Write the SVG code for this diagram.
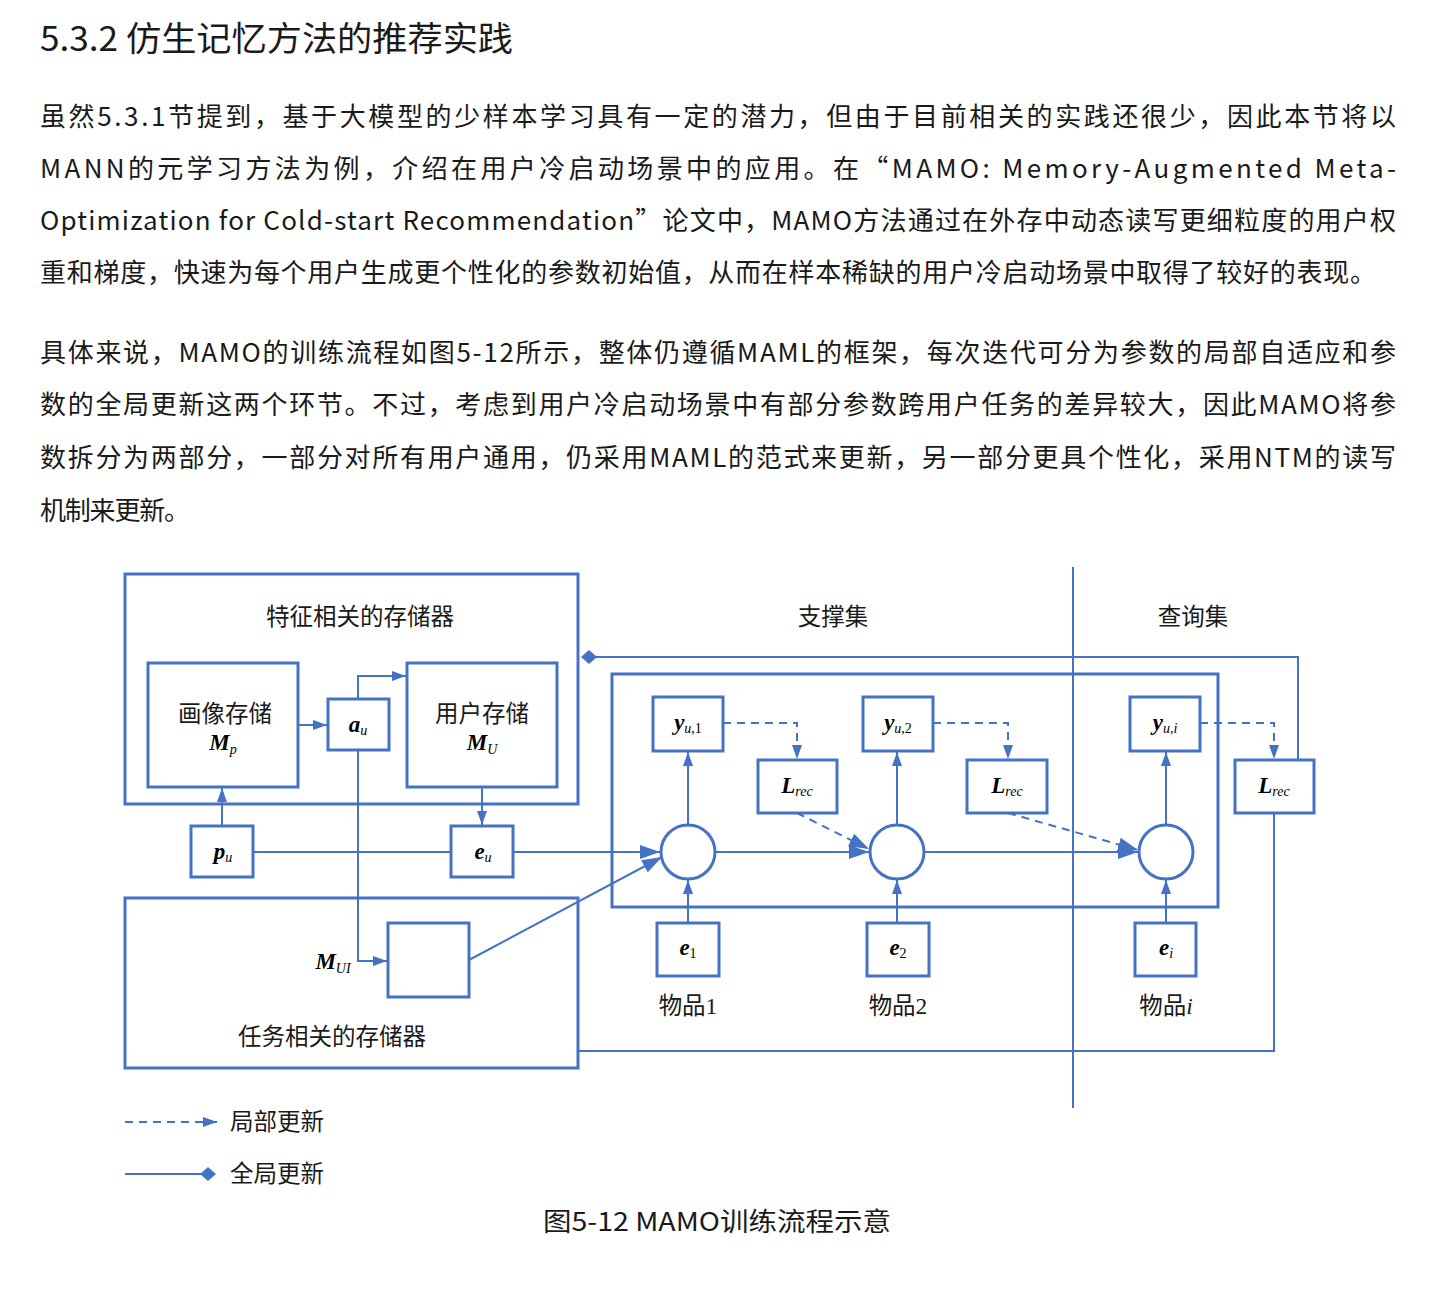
<svg xmlns="http://www.w3.org/2000/svg" width="1433" height="1289" viewBox="0 0 1433 1289">
<style>
.body{font-family:"Noto Sans CJK SC","Noto Sans",sans-serif;font-size:26px;fill:#1a1a1a}
.title{font-family:"Noto Sans CJK SC","Noto Sans",sans-serif;font-size:34px;fill:#1a1a1a}
.lbl{font-family:"Liberation Serif","Noto Sans CJK SC",serif;font-size:23.5px;fill:#1a1a1a}
.mb{font-family:"Liberation Serif",serif;font-weight:bold;font-style:italic;font-size:23px}
.ms{font-family:"Liberation Serif",serif;font-style:italic;font-size:14px}
.mr{font-family:"Liberation Serif",serif;font-size:14px}
.box{fill:none;stroke:#4472C4;stroke-width:3}
.ln{fill:none;stroke:#4472C4;stroke-width:2}
.dash{fill:none;stroke:#4472C4;stroke-width:2;stroke-dasharray:8,6}
</style>
<defs>
<marker id="arr" markerUnits="userSpaceOnUse" markerWidth="16" markerHeight="12" refX="14" refY="5" orient="auto">
<path d="M0,0 L14,5 L0,10 z" fill="#4472C4"/>
</marker>
<marker id="arrBig" markerUnits="userSpaceOnUse" markerWidth="22" markerHeight="16" refX="20" refY="7" orient="auto">
<path d="M0,0 L20,7 L0,14 z" fill="#4472C4"/>
</marker>
<marker id="dia" markerUnits="userSpaceOnUse" markerWidth="16" markerHeight="16" refX="8" refY="8" orient="auto">
<path d="M0,8 L8,1 L16,8 L8,15 z" fill="#4472C4"/>
</marker>
</defs>
<rect width="1433" height="1289" fill="#fff"/>

<text class="title" x="40" y="51" textLength="473" lengthAdjust="spacingAndGlyphs">5.3.2 仿生记忆方法的推荐实践</text>
<text class="body" x="40" y="126" textLength="1356" lengthAdjust="spacing">虽然5.3.1节提到，基于大模型的少样本学习具有一定的潜力，但由于目前相关的实践还很少，因此本节将以</text>
<text class="body" x="40" y="178" textLength="1356" lengthAdjust="spacing">MANN的元学习方法为例，介绍在用户冷启动场景中的应用。在“MAMO: Memory-Augmented Meta-</text>
<text class="body" x="40" y="230" textLength="1356" lengthAdjust="spacing">Optimization for Cold-start Recommendation”论文中，MAMO方法通过在外存中动态读写更细粒度的用户权</text>
<text class="body" x="40" y="282" textLength="1336" lengthAdjust="spacing">重和梯度，快速为每个用户生成更个性化的参数初始值，从而在样本稀缺的用户冷启动场景中取得了较好的表现。</text>
<text class="body" x="40" y="362" textLength="1356" lengthAdjust="spacing">具体来说，MAMO的训练流程如图5-12所示，整体仍遵循MAML的框架，每次迭代可分为参数的局部自适应和参</text>
<text class="body" x="40" y="414" textLength="1356" lengthAdjust="spacing">数的全局更新这两个环节。不过，考虑到用户冷启动场景中有部分参数跨用户任务的差异较大，因此MAMO将参</text>
<text class="body" x="40" y="467" textLength="1356" lengthAdjust="spacing">数拆分为两部分，一部分对所有用户通用，仍采用MAML的范式来更新，另一部分更具个性化，采用NTM的读写</text>
<text class="body" x="40" y="520" textLength="150" lengthAdjust="spacing">机制来更新。</text>

<g id="feature-memory">
<rect class="box" x="125" y="574" width="453" height="230"/>
<text class="lbl" x="360" y="625" text-anchor="middle">特征相关的存储器</text>
</g>
<g id="task-memory">
<rect class="box" x="125" y="898" width="453" height="170"/>
<text class="lbl" x="332" y="1045" text-anchor="middle">任务相关的存储器</text>
<text x="333" y="969" text-anchor="middle"><tspan class="mb">M</tspan><tspan class="ms" dy="4">UI</tspan></text>
</g>
<g id="support-set">
<rect class="box" x="612" y="674" width="606" height="233"/>
<text class="lbl" x="833" y="625" text-anchor="middle">支撑集</text>
</g>
<g id="query-set">
<text class="lbl" x="1193" y="625" text-anchor="middle">查询集</text>
</g>

<g id="profile-mem">
<rect class="box" x="148" y="663" width="150" height="124"/>
<text class="lbl" x="225" y="722" text-anchor="middle">画像存储</text>
<text x="223" y="750" text-anchor="middle"><tspan class="mb">M</tspan><tspan class="ms" dy="4">p</tspan></text>
</g>
<g id="a-u">
<rect class="box" x="328" y="699" width="61" height="51"/>
<text x="358" y="732" text-anchor="middle"><tspan class="mb">a</tspan><tspan class="ms" dy="3">u</tspan></text>
</g>
<g id="user-mem">
<rect class="box" x="407" y="663" width="150" height="124"/>
<text class="lbl" x="482" y="722" text-anchor="middle">用户存储</text>
<text x="482" y="750" text-anchor="middle"><tspan class="mb">M</tspan><tspan class="ms" dy="4">U</tspan></text>
</g>
<g id="p-u">
<rect class="box" x="191" y="826" width="62" height="51"/>
<text x="223" y="859" text-anchor="middle"><tspan class="mb">p</tspan><tspan class="ms" dy="3">u</tspan></text>
</g>
<g id="e-u">
<rect class="box" x="451" y="826" width="62" height="51"/>
<text x="483" y="859" text-anchor="middle"><tspan class="mb">e</tspan><tspan class="ms" dy="3">u</tspan></text>
</g>
<g id="mui-box">
<rect class="box" x="388" y="923" width="81" height="74"/>
</g>

<g id="y1">
<rect class="box" x="653" y="697" width="70" height="54"/>
<text x="688" y="730" text-anchor="middle"><tspan class="mb">y</tspan><tspan class="ms" dy="3">u</tspan><tspan class="mr">,1</tspan></text>
</g>
<g id="y2">
<rect class="box" x="863" y="697" width="70" height="54"/>
<text x="898" y="730" text-anchor="middle"><tspan class="mb">y</tspan><tspan class="ms" dy="3">u</tspan><tspan class="mr">,2</tspan></text>
</g>
<g id="yi">
<rect class="box" x="1130" y="697" width="70" height="54"/>
<text x="1165" y="730" text-anchor="middle"><tspan class="mb">y</tspan><tspan class="ms" dy="3">u,i</tspan></text>
</g>
<g id="lrec1">
<rect class="box" x="758" y="760" width="79" height="53"/>
<text x="797" y="793" text-anchor="middle"><tspan class="mb">L</tspan><tspan class="ms" dy="3">rec</tspan></text>
</g>
<g id="lrec2">
<rect class="box" x="967" y="760" width="80" height="53"/>
<text x="1007" y="793" text-anchor="middle"><tspan class="mb">L</tspan><tspan class="ms" dy="3">rec</tspan></text>
</g>
<g id="lrec3">
<rect class="box" x="1235" y="760" width="79" height="53"/>
<text x="1274" y="793" text-anchor="middle"><tspan class="mb">L</tspan><tspan class="ms" dy="3">rec</tspan></text>
</g>
<g id="c1"><circle class="box" cx="688" cy="852" r="27"/></g>
<g id="c2"><circle class="box" cx="897" cy="852" r="27"/></g>
<g id="c3"><circle class="box" cx="1166" cy="852" r="27"/></g>

<g id="e1">
<rect class="box" x="657" y="923" width="62" height="53"/>
<text x="688" y="955" text-anchor="middle"><tspan class="mb">e</tspan><tspan class="mr" dy="3">1</tspan></text>
<text class="lbl" x="688" y="1014" text-anchor="middle">物品1</text>
</g>
<g id="e2">
<rect class="box" x="867" y="923" width="62" height="53"/>
<text x="898" y="955" text-anchor="middle"><tspan class="mb">e</tspan><tspan class="mr" dy="3">2</tspan></text>
<text class="lbl" x="898" y="1014" text-anchor="middle">物品2</text>
</g>
<g id="ei">
<rect class="box" x="1135" y="923" width="61" height="53"/>
<text x="1166" y="955" text-anchor="middle"><tspan class="mb">e</tspan><tspan class="ms" dy="3">i</tspan></text>
<text x="1166" y="1014" text-anchor="middle"><tspan class="lbl">物品</tspan><tspan class="lbl" font-style="italic">i</tspan></text>
</g>

<g id="connectors">
<line class="ln" x1="1073" y1="567" x2="1073" y2="1108"/>
<polyline class="ln" points="1298,760 1298,657 589,657" marker-end="url(#dia)"/>
<line class="ln" x1="298" y1="725" x2="327" y2="725" marker-end="url(#arr)"/>
<polyline class="ln" points="358,699 358,676 406,676" marker-end="url(#arr)"/>
<polyline class="ln" points="358,750 358,961 387,961" marker-end="url(#arr)"/>
<line class="ln" x1="482" y1="787" x2="482" y2="825" marker-end="url(#arr)"/>
<line class="ln" x1="222" y1="826" x2="222" y2="788" marker-end="url(#arr)"/>
<line class="ln" x1="253" y1="852" x2="451" y2="852"/>
<line class="ln" x1="513" y1="852" x2="660" y2="852" marker-end="url(#arrBig)"/>
<line class="ln" x1="469" y1="960" x2="662" y2="857" marker-end="url(#arrBig)"/>
<line class="ln" x1="715" y1="852" x2="869" y2="852" marker-end="url(#arrBig)"/>
<line class="ln" x1="924" y1="852" x2="1138" y2="852" marker-end="url(#arrBig)"/>
<line class="dash" x1="797" y1="813" x2="869" y2="849" marker-end="url(#arrBig)"/>
<line class="dash" x1="1008" y1="813" x2="1138" y2="850" marker-end="url(#arrBig)"/>
<line class="ln" x1="688" y1="825" x2="688" y2="752" marker-end="url(#arr)"/>
<line class="ln" x1="897" y1="825" x2="897" y2="752" marker-end="url(#arr)"/>
<line class="ln" x1="1166" y1="825" x2="1166" y2="752" marker-end="url(#arr)"/>
<line class="ln" x1="688" y1="922" x2="688" y2="880" marker-end="url(#arr)"/>
<line class="ln" x1="897" y1="922" x2="897" y2="880" marker-end="url(#arr)"/>
<line class="ln" x1="1166" y1="922" x2="1166" y2="880" marker-end="url(#arr)"/>
<polyline class="dash" points="723,723 797,723 797,759" marker-end="url(#arr)"/>
<polyline class="dash" points="933,723 1008,723 1008,759" marker-end="url(#arr)"/>
<polyline class="dash" points="1200,723 1274,723 1274,759" marker-end="url(#arr)"/>
<polyline class="ln" points="1274,813 1274,1051 578,1051"/>
</g>

<g id="legend">
<line class="dash" x1="125" y1="1122" x2="217" y2="1122" stroke-dasharray="7,5" marker-end="url(#arr)"/>
<text class="lbl" x="230" y="1130">局部更新</text>
<line class="ln" x1="125" y1="1174" x2="208" y2="1174" marker-end="url(#dia)"/>
<text class="lbl" x="230" y="1182">全局更新</text>
</g>

<text class="body" x="543" y="1231" font-size="27" textLength="348" lengthAdjust="spacingAndGlyphs">图5-12 MAMO训练流程示意</text>
</svg>
